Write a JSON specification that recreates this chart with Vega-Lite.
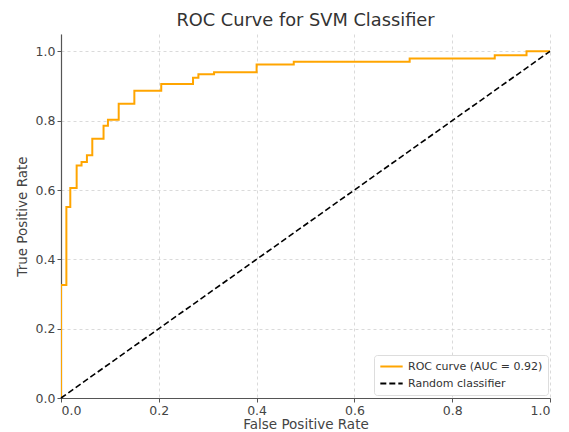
{
  "$schema": "https://vega.github.io/schema/vega-lite/v6.json",
  "autosize": "none",
  "width": 489,
  "height": 364,
  "padding": {"left": 61, "top": 34, "right": 19, "bottom": 34},
  "background": "white",
  "title": {
    "text": "ROC Curve for SVM Classifier",
    "font": "DejaVu Sans",
    "fontSize": 17.8,
    "fontWeight": "normal",
    "color": "#333333",
    "offset": 4
  },
  "datasets": {
    "roc": [
      {"fpr": 0.0, "tpr": 0.0, "series": "ROC curve (AUC = 0.92)", "o": 0},
      {"fpr": 0.0, "tpr": 0.326, "series": "ROC curve (AUC = 0.92)", "o": 1},
      {"fpr": 0.011, "tpr": 0.551, "series": "ROC curve (AUC = 0.92)", "o": 2},
      {"fpr": 0.019, "tpr": 0.606, "series": "ROC curve (AUC = 0.92)", "o": 3},
      {"fpr": 0.032, "tpr": 0.671, "series": "ROC curve (AUC = 0.92)", "o": 4},
      {"fpr": 0.042, "tpr": 0.681, "series": "ROC curve (AUC = 0.92)", "o": 5},
      {"fpr": 0.053, "tpr": 0.700, "series": "ROC curve (AUC = 0.92)", "o": 6},
      {"fpr": 0.064, "tpr": 0.748, "series": "ROC curve (AUC = 0.92)", "o": 7},
      {"fpr": 0.087, "tpr": 0.785, "series": "ROC curve (AUC = 0.92)", "o": 8},
      {"fpr": 0.096, "tpr": 0.803, "series": "ROC curve (AUC = 0.92)", "o": 9},
      {"fpr": 0.118, "tpr": 0.849, "series": "ROC curve (AUC = 0.92)", "o": 10},
      {"fpr": 0.150, "tpr": 0.886, "series": "ROC curve (AUC = 0.92)", "o": 11},
      {"fpr": 0.205, "tpr": 0.906, "series": "ROC curve (AUC = 0.92)", "o": 12},
      {"fpr": 0.270, "tpr": 0.924, "series": "ROC curve (AUC = 0.92)", "o": 13},
      {"fpr": 0.281, "tpr": 0.934, "series": "ROC curve (AUC = 0.92)", "o": 14},
      {"fpr": 0.313, "tpr": 0.940, "series": "ROC curve (AUC = 0.92)", "o": 15},
      {"fpr": 0.400, "tpr": 0.962, "series": "ROC curve (AUC = 0.92)", "o": 16},
      {"fpr": 0.476, "tpr": 0.970, "series": "ROC curve (AUC = 0.92)", "o": 17},
      {"fpr": 0.713, "tpr": 0.979, "series": "ROC curve (AUC = 0.92)", "o": 18},
      {"fpr": 0.887, "tpr": 0.989, "series": "ROC curve (AUC = 0.92)", "o": 19},
      {"fpr": 0.952, "tpr": 1.0, "series": "ROC curve (AUC = 0.92)", "o": 20},
      {"fpr": 1.0, "tpr": 1.0, "series": "ROC curve (AUC = 0.92)", "o": 21}
    ],
    "diag": [
      {"fpr": 0.0, "tpr": 0.0, "series": "Random classifier", "o": 0},
      {"fpr": 1.0, "tpr": 1.0, "series": "Random classifier", "o": 1}
    ]
  },
  "config": {
    "view": {"stroke": null},
    "axis": {
      "labelFont": "DejaVu Sans",
      "labelFontSize": 12.5,
      "labelColor": "#444444",
      "titleFont": "DejaVu Sans",
      "titleFontSize": 13.5,
      "titleFontWeight": "normal",
      "titleColor": "#444444",
      "domainColor": "#555555",
      "domainWidth": 1.2,
      "tickColor": "#555555",
      "tickSize": 4,
      "labelPadding": 2,
      "gridColor": "#d0d0d0",
      "gridDash": [3, 3],
      "gridWidth": 0.8
    },
    "legend": {
      "labelFont": "DejaVu Sans",
      "labelFontSize": 11,
      "labelColor": "#333333"
    }
  },
  "encoding": {
    "x": {
      "field": "fpr",
      "type": "quantitative",
      "scale": {"domain": [0, 1], "nice": false, "zero": false},
      "axis": {"title": "False Positive Rate", "values": [0, 0.2, 0.4, 0.6, 0.8, 1.0], "format": ".1f", "titlePadding": 1}
    },
    "y": {
      "field": "tpr",
      "type": "quantitative",
      "scale": {"domain": [0, 1.05], "nice": false, "zero": false},
      "axis": {"title": "True Positive Rate", "values": [0, 0.2, 0.4, 0.6, 0.8, 1.0], "format": ".1f", "titlePadding": 6}
    },
    "order": {"field": "o", "type": "quantitative"},
    "color": {
      "field": "series",
      "type": "nominal",
      "scale": {"domain": ["ROC curve (AUC = 0.92)", "Random classifier"], "range": ["#FFA500", "#000000"]},
      "legend": {
        "title": null,
        "orient": "none",
        "legendX": 313,
        "legendY": 321,
        "symbolType": "stroke",
        "symbolSize": 500,
        "symbolStrokeWidth": 2,
        "clipHeight": 13,
        "fillColor": "white",
        "strokeColor": "#dddddd",
        "cornerRadius": 3,
        "padding": 5,
        "rowPadding": 4
      }
    },
    "strokeDash": {
      "field": "series",
      "type": "nominal",
      "scale": {"domain": ["ROC curve (AUC = 0.92)", "Random classifier"], "range": [[1, 0], [6, 3]]},
      "legend": null
    }
  },
  "layer": [
    {
      "data": {"name": "roc"},
      "mark": {"type": "line", "interpolate": "step-after", "strokeWidth": 2, "clip": true}
    },
    {
      "data": {"name": "diag"},
      "mark": {"type": "line", "strokeWidth": 1.6}
    }
  ]
}
